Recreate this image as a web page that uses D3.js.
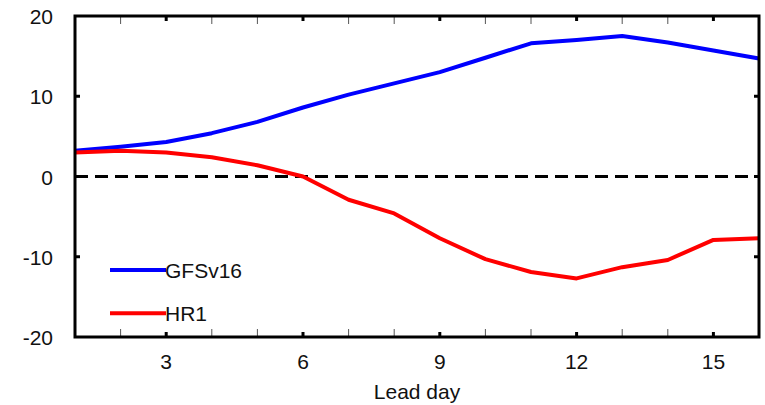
<!DOCTYPE html>
<html>
<head>
<meta charset="utf-8">
<script src="https://cdn.jsdelivr.net/npm/d3@7"></script>
<style>
  body { margin: 0; background: #fff; }
  svg text { font-family: "Liberation Sans", Arial, sans-serif; fill: #111; }
</style>
</head>
<body>
<svg id="chart" width="765" height="405"></svg>
<script>
const days = d3.range(1, 17);
const gfsv16 = [3.2, 3.7, 4.3, 5.4, 6.8, 8.6, 10.2, 11.6, 13.0, 14.8, 16.6, 17.0, 17.5, 16.7, 15.7, 14.7];
const hr1 = [3.0, 3.2, 3.0, 2.4, 1.4, 0.0, -2.9, -4.6, -7.7, -10.3, -11.9, -12.7, -11.3, -10.4, -7.9, -7.7];
const series = [
  { name: "GFSv16", values: gfsv16, color: "#0000ff" },
  { name: "HR1", values: hr1, color: "#ff0000" }
];
const xTicks = [3, 6, 9, 12, 15];
const yTicks = [-20, -10, 0, 10, 20];

const plotL = 75, plotR = 759, plotT = 16, plotB = 337;
const fontSize = 21;

const x = d3.scaleLinear().domain([1, 16]).range([plotL, plotR]);
const y = d3.scaleLinear().domain([-20, 20]).range([plotB, plotT]);

const svg = d3.select("#chart");

// minor ticks (top and bottom, inward)
const minor = days.filter(d => d > 1 && d < 16 && xTicks.indexOf(d) < 0);
[plotB, plotT].forEach(yy => {
  svg.append("g").selectAll("line")
    .data(minor)
    .enter()
    .append("line")
    .attr("x1", d => x(d)).attr("x2", d => x(d))
    .attr("y1", yy).attr("y2", yy === plotB ? yy - 8 : yy + 8)
    .attr("stroke", "#555").attr("stroke-width", 1);
});

// major ticks
[plotB, plotT].forEach(yy => {
  svg.append("g").selectAll("line")
    .data(xTicks)
    .enter()
    .append("line")
    .attr("x1", d => x(d)).attr("x2", d => x(d))
    .attr("y1", yy).attr("y2", yy === plotB ? yy - 5 : yy + 5)
    .attr("stroke", "#000").attr("stroke-width", 3);
});
[plotL, plotR].forEach(xx => {
  svg.append("g").selectAll("line")
    .data([-10, 0, 10])
    .enter()
    .append("line")
    .attr("x1", xx).attr("x2", xx === plotL ? xx + 5 : xx - 5)
    .attr("y1", d => y(d)).attr("y2", d => y(d))
    .attr("stroke", "#000").attr("stroke-width", 3);
});

// zero line
svg.append("line")
  .attr("x1", plotL).attr("x2", plotR)
  .attr("y1", y(0)).attr("y2", y(0))
  .attr("stroke", "#000").attr("stroke-width", 3)
  .attr("stroke-dasharray", "13,7");

const line = d3.line()
  .x((d, i) => x(days[i]))
  .y(d => y(d));

svg.selectAll(".series")
  .data(series)
  .enter()
  .append("path")
  .attr("class", "series")
  .attr("d", d => line(d.values))
  .attr("fill", "none")
  .attr("stroke", d => d.color)
  .attr("stroke-width", 4)
  .attr("stroke-linejoin", "round");

// frame
svg.append("rect")
  .attr("x", plotL).attr("y", plotT)
  .attr("width", plotR - plotL).attr("height", plotB - plotT)
  .attr("fill", "none").attr("stroke", "#000").attr("stroke-width", 3);

// tick labels
svg.append("g").selectAll("text")
  .data(yTicks)
  .enter()
  .append("text")
  .attr("x", 53)
  .attr("y", d => y(d) + 8)
  .attr("text-anchor", "end")
  .attr("font-size", fontSize)
  .text(d => d);

svg.append("g").selectAll("text")
  .data(xTicks)
  .enter()
  .append("text")
  .attr("x", d => x(d))
  .attr("y", 369)
  .attr("text-anchor", "middle")
  .attr("font-size", fontSize)
  .text(d => d);

svg.append("text")
  .attr("x", 417)
  .attr("y", 399)
  .attr("text-anchor", "middle")
  .attr("font-size", fontSize)
  .text("Lead day");

// legend
const legend = svg.append("g").selectAll("g")
  .data(series)
  .enter()
  .append("g")
  .attr("transform", (d, i) => "translate(110," + (270 + i * 43.3) + ")");
legend.append("line")
  .attr("x1", 0).attr("x2", 56)
  .attr("stroke", d => d.color).attr("stroke-width", 4);
legend.append("text")
  .attr("x", 55).attr("y", 8)
  .attr("font-size", fontSize)
  .text(d => d.name);
</script>
</body>
</html>
